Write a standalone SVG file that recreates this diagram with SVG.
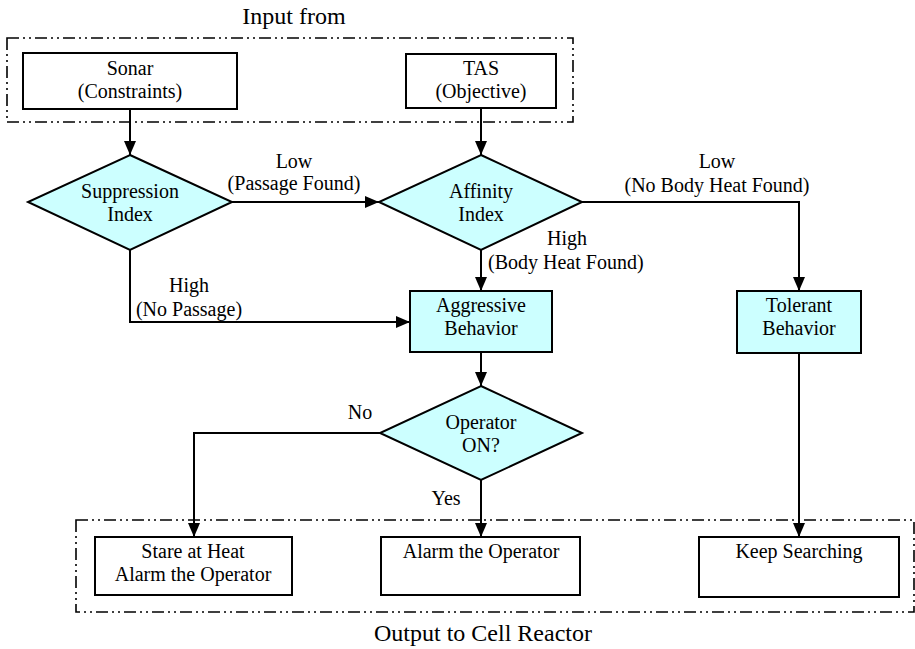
<svg xmlns="http://www.w3.org/2000/svg" width="915" height="649" viewBox="0 0 915 649" font-family="'Liberation Serif', 'DejaVu Serif', serif">
<defs>
<marker id="arr" markerUnits="userSpaceOnUse" markerWidth="14" markerHeight="12" refX="14" refY="6" orient="auto">
<path d="M0,0 L14,6 L0,12 z" fill="#000"/>
</marker>
<style>
text{font-family:'Liberation Serif','DejaVu Serif',serif;font-size:20px;fill:#000;text-anchor:middle}
.title{font-size:24px}
.box{fill:#fff;stroke:#000;stroke-width:2}
.cyan{fill:#ccffff;stroke:#000;stroke-width:2}
.frame{fill:none;stroke:#000;stroke-width:1.6;stroke-dasharray:12 4 2 4 2 4}
.conn path{fill:none;stroke:#000;stroke-width:2;marker-end:url(#arr)}
</style>
</defs>
<rect fill="#fff" x="0" y="0" width="915" height="649"/>
<g id="input-frame">
<rect class="frame" x="7" y="38" width="566" height="84"/>
<text class="title" x="294" y="24">Input from</text>
</g>
<g id="output-frame">
<rect class="frame" x="76" y="520" width="838" height="92"/>
<text class="title" x="483" y="641">Output to Cell Reactor</text>
</g>
<g class="conn" id="connectors">
<path d="M130,109 L130,155"/>
<path d="M481,108 L481,155"/>
<path d="M232,202 L379,202"/>
<path d="M582,202 L799,202 L799,291"/>
<path d="M481,250 L481,291"/>
<path d="M130,250 L130,322 L410,322"/>
<path d="M481,352 L481,386"/>
<path d="M380,433 L194,433 L194,537"/>
<path d="M481,480 L481,537"/>
<path d="M799,353 L799,537"/>
<text x="294" y="168">Low</text>
<text x="294" y="190">(Passage Found)</text>
<text x="717" y="168">Low</text>
<text x="717" y="192">(No Body Heat Found)</text>
<text x="567" y="245">High</text>
<text x="488" y="269" style="text-anchor:start">(Body Heat Found)</text>
<text x="189" y="292">High</text>
<text x="189" y="316">(No Passage)</text>
<text x="360" y="419">No</text>
<text x="446" y="505">Yes</text>
</g>
<g id="sonar">
<rect class="box" x="23" y="53" width="214" height="56"/>
<text x="130" y="75">Sonar</text>
<text x="130" y="98">(Constraints)</text>
</g>
<g id="tas">
<rect class="box" x="406" y="54" width="150" height="54"/>
<text x="481" y="75">TAS</text>
<text x="481" y="98">(Objective)</text>
</g>
<g id="suppression">
<polygon class="cyan" points="130,155 232,202 130,250 28,202"/>
<text x="130" y="198">Suppression</text>
<text x="130" y="221">Index</text>
</g>
<g id="affinity">
<polygon class="cyan" points="481,155 582,202 481,250 379,202"/>
<text x="481" y="198">Affinity</text>
<text x="481" y="221">Index</text>
</g>
<g id="aggressive">
<rect class="cyan" x="410" y="291" width="142" height="61"/>
<text x="481" y="312">Aggressive</text>
<text x="481" y="335">Behavior</text>
</g>
<g id="tolerant">
<rect class="cyan" x="737" y="291" width="124" height="62"/>
<text x="799" y="312">Tolerant</text>
<text x="799" y="335">Behavior</text>
</g>
<g id="operator">
<polygon class="cyan" points="481,386 582,433 481,480 380,433"/>
<text x="481" y="429">Operator</text>
<text x="481" y="452">ON?</text>
</g>
<g id="stare">
<rect class="box" x="95" y="537" width="197" height="58"/>
<text x="193" y="558">Stare at Heat</text>
<text x="193" y="581">Alarm the Operator</text>
</g>
<g id="alarm">
<rect class="box" x="381" y="537" width="199" height="58"/>
<text x="481" y="558">Alarm the Operator</text>
</g>
<g id="keep">
<rect class="box" x="699" y="537" width="200" height="60"/>
<text x="799" y="558">Keep Searching</text>
</g>
</svg>
